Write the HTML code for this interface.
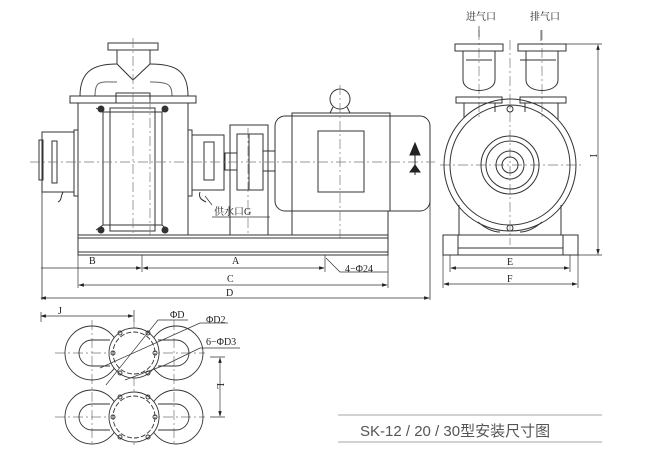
<!DOCTYPE html>
<html><head><meta charset="utf-8"><style>
html,body{margin:0;padding:0;background:#fff;}
svg{display:block;font-family:"Liberation Serif","Noto Serif CJK SC",serif;}
</style></head><body>
<svg width="669" height="464" viewBox="0 0 669 464" xmlns="http://www.w3.org/2000/svg">
<defs><marker id="a" markerWidth="8" markerHeight="6" refX="7" refY="3" orient="auto-start-reverse"><path d="M0,0.5 L8,3 L0,5.5z" fill="#222"/></marker></defs>
<g fill="none" stroke="#333" stroke-width="1">
<rect x="108" y="43" width="50" height="7"/>
<path d="M117,50 V64 M150,50 V64 M117,64 L133,80 L150,64"/>
<path d="M80,96 C80,70 95,64 117,64 M150,64 C175,64 188,70 188,96"/>
<path d="M95,96 C95,80 100,82 117,82 M150,82 C168,82 172,84 172,96" stroke="#666"/>
<rect x="70" y="96" width="126" height="7"/>
<rect x="116" y="93" width="34" height="10"/>
<rect x="78" y="103" width="110" height="132"/>
<path d="M96,108 L103,112 V225 L96,230 M168,108 L162,112 V225 L168,230"/>
<rect x="110" y="108" width="45" height="123"/>
<path d="M103,112 H162 M103,225 H162"/>
<circle cx="101" cy="109" r="3" fill="#333"/><circle cx="165" cy="109" r="3" fill="#333"/>
<circle cx="101" cy="230" r="3" fill="#333"/><circle cx="165" cy="230" r="3" fill="#333"/>
<rect x="42" y="132" width="32" height="60"/><rect x="74" y="130" width="4" height="66"/>
<rect x="39" y="140" width="4" height="40"/><rect x="52" y="141" width="5" height="42"/>
<rect x="188" y="130" width="4" height="66"/><rect x="192" y="135" width="32" height="55"/>
<rect x="204" y="142" width="10" height="38"/>
<path d="M63,192 C60,198 62,200 58,202 M200,192 C198,198 202,200 206,202"/>
<rect x="230" y="125" width="38" height="110"/>
<rect x="237" y="134" width="26" height="56"/>
<path d="M249,134 V190"/>
<rect x="225" y="153" width="12" height="17"/><rect x="263" y="151" width="12" height="20"/>
<rect x="275" y="116" width="155" height="95" rx="10"/>
<rect x="292" y="113" width="98" height="98"/>
<rect x="318" y="131" width="46" height="61"/>
<path d="M295,211 H388 V235 M292,235 V211"/>
<circle cx="340" cy="99" r="10"/><path d="M333,107 L330,113 M347,107 L350,113"/>
<rect x="78" y="235" width="310" height="20"/><path d="M78,238 H388 M78,252 H388"/>
<path d="M42,140 V300 M430,180 V300" stroke-width="0.8"/>
</g>
<g stroke="#777" stroke-width="0.7" stroke-dasharray="10,3,2,3" fill="none">
<path d="M30,162 H435 M133,38 V235 M340,85 V240 M248,128 V235 M150,100 V238"/>
<path d="M440,165 H582 M510,40 V245 M479,30 V120 M542,30 V120"/>
<path d="M55,353 H205 M55,417 H205 M134,322 V445 M92,320 V445 M174,320 V445"/>
</g>
<path d="M415,143 V175 M410,155 L415,143 L420,155z M410,172 L415,165 L420,172z" stroke="#222" fill="#222"/>
<g stroke="#333" stroke-width="0.7" fill="none">
<path d="M142,255 V272 M325,255 V272 M78,255 V288 M388,255 V288"/>
<path d="M41,268 H141" marker-end="url(#a)"/><path d="M143,268 H324" marker-start="url(#a)" marker-end="url(#a)"/>
<path d="M79,285 H387" marker-start="url(#a)" marker-end="url(#a)"/>
<path d="M41,298 H429" marker-start="url(#a)" marker-end="url(#a)"/>
<path d="M326,258 L340,272 H388"/>
<path d="M212,205 L205,196 M212,217 H270"/>
</g>
<g fill="#222" font-size="10">
<text x="89" y="264">B</text><text x="232" y="264">A</text><text x="227" y="282">C</text><text x="226" y="296">D</text>
<text x="345" y="272">4−Φ24</text>
<text x="214" y="215" font-size="10">供水口G</text>
</g>
<g fill="none" stroke="#333" stroke-width="1">
<rect x="455" y="44" width="48" height="7"/><rect x="518" y="44" width="48" height="7"/>
<path d="M463,51 V80 C463,94 495,94 495,80 V51 M466,60 H492 M520,60 H556"/>
<path d="M526,51 V80 C526,94 558,94 558,80 V51"/>
<rect x="456" y="97" width="46" height="6"/><rect x="520" y="97" width="46" height="6"/>
<path d="M464,103 V118 M495,103 V112 M525,103 V112 M558,103 V120"/>
<circle cx="510" cy="165" r="66"/><circle cx="510" cy="165" r="60"/>
<circle cx="510" cy="165" r="29"/><circle cx="510" cy="165" r="24"/>
<circle cx="510" cy="165" r="14"/><circle cx="510" cy="165" r="8"/>
<path d="M459,205 V235 M561,205 V235 M478,222 C485,228 492,232 500,232 M542,222 C535,228 528,232 520,232"/>
<rect x="443" y="235" width="135" height="20"/>
<path d="M458,235 V255 M563,235 V255 M458,248 H563"/>
<circle cx="510" cy="109" r="3"/><circle cx="510" cy="228" r="3"/>
</g>
<g stroke="#333" stroke-width="0.7" fill="none">
<path d="M566,44 H602 M578,255 H602"/>
<path d="M598,45 V254" marker-start="url(#a)" marker-end="url(#a)"/>
<path d="M450,255 V272 M570,255 V272 M443,255 V288 M578,255 V288"/>
<path d="M451,268 H569" marker-start="url(#a)" marker-end="url(#a)"/>
<path d="M444,284 H577" marker-start="url(#a)" marker-end="url(#a)"/>
<path d="M479,26 V37 M541,30 V41"/>
</g>
<g fill="#222" font-size="10">
<text x="507" y="265">E</text><text x="507" y="282">F</text>
<text x="590" y="160" transform="rotate(90 593 157)">I</text>
<text x="466" y="20" font-size="10">进气口</text><text x="530" y="20" font-size="10">排气口</text>
</g>
<g fill="none" stroke="#333" stroke-width="0.9">
<g id="row">
<circle cx="92" cy="353" r="27"/><path d="M110,340 H92 A13,13 0 0 0 92,366 H110"/>
<circle cx="176" cy="353" r="27"/><path d="M158,340 H176 A13,13 0 0 1 176,366 H158"/>
<circle cx="134" cy="353" r="25" fill="#fff"/><circle cx="134" cy="353" r="21" stroke-dasharray="5,2"/>
<circle cx="120" cy="333" r="2"/><circle cx="148" cy="333" r="2"/><circle cx="113" cy="353" r="2"/><circle cx="155" cy="353" r="2"/><circle cx="120" cy="373" r="2"/><circle cx="148" cy="373" r="2"/>
</g>
<use href="#row" y="64"/>
</g>
<g stroke="#333" stroke-width="0.7" fill="none">
<path d="M41,312 V322 M134,310 V322"/>
<path d="M41,316 H133" marker-start="url(#a)" marker-end="url(#a)"/>
<path d="M210,357 H225 M210,417 H225"/>
<path d="M220,358 V416" marker-start="url(#a)" marker-end="url(#a)"/>
<path d="M106,385 L158,320 H188 M100,368 L200,323 H228 M125,380 L165,365 L200,348 H240"/>
</g>
<g fill="#222" font-size="10">
<text x="58" y="314">J</text><text x="170" y="318">ΦD</text><text x="206" y="323">ΦD2</text><text x="206" y="345">6−ΦD3</text>
<text x="216" y="390" transform="rotate(90 220 387)">L</text>
</g>
<path d="M338,415 H602 M338,442 H602" stroke="#888" stroke-width="0.8"/>
<text x="360" y="436" font-family="Liberation Sans,'Noto Sans CJK SC',sans-serif" font-size="15" fill="#555">SK-12 / 20 / 30型安装尺寸图</text>
</svg>
</body></html>
